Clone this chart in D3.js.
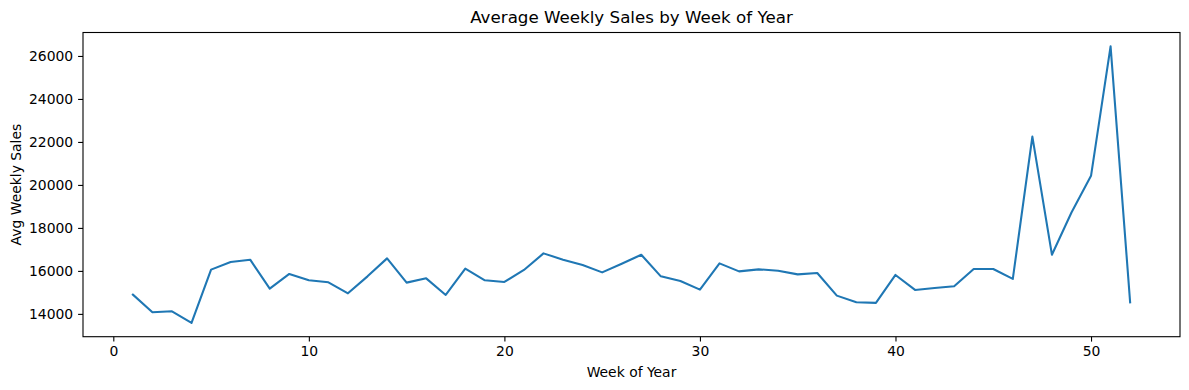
<!DOCTYPE html>
<html>
<head>
<meta charset="utf-8">
<script src="https://cdn.jsdelivr.net/npm/d3@7"></script>
<style>
  body { margin: 0; background: #fff; }
  text { font-family: "DejaVu Sans", sans-serif; fill: #000; }
</style>
</head>
<body>
<svg id="chart"></svg>
<script>
// week numbers and average weekly sales
const weeks = d3.range(1, 53);
const avgSales = [
  14896, 14074, 14121, 13582, 16058, 16415, 16522, 15175, 15858, 15561,
  15468, 14957, 15746, 16582, 15454, 15653, 14882, 16104, 15561, 15486,
  16044, 16815, 16522, 16276, 15932, 16336, 16754, 15746, 15533, 15129,
  16350, 15979, 16072, 16011, 15839, 15904, 14850, 14539, 14511, 15811,
  15115, 15208, 15282, 16090, 16090, 15626, 22249, 16754, 18719, 20424,
  26448, 14539
];
const xTicks = [0, 10, 20, 30, 40, 50];
const yTicks = [14000, 16000, 18000, 20000, 22000, 24000, 26000];

const W = 1189, H = 390;
const margin = { top: 32.5, right: 9, bottom: 53.3, left: 83 };
const width = W - margin.left - margin.right;
const height = H - margin.top - margin.bottom;

const svg = d3.select("#chart").attr("width", W).attr("height", H);
const g = svg.append("g")
  .attr("transform", "translate(" + margin.left + "," + margin.top + ")");

// matplotlib-style 5% padding around the data
const xPad = (d3.max(weeks) - d3.min(weeks)) * 0.05;
const yPad = (d3.max(avgSales) - d3.min(avgSales)) * 0.05;

const x = d3.scaleLinear()
  .domain([d3.min(weeks) - xPad, d3.max(weeks) + xPad])
  .range([0, width]);
const y = d3.scaleLinear()
  .domain([d3.min(avgSales) - yPad, d3.max(avgSales) + yPad])
  .range([height, 0]);

// axes
const xAxis = g.append("g")
  .attr("transform", "translate(0," + height + ")")
  .call(d3.axisBottom(x).tickValues(xTicks).tickSize(4.9).tickPadding(4.9).tickFormat(d3.format("d")));
const yAxis = g.append("g")
  .call(d3.axisLeft(y).tickValues(yTicks).tickSize(4.9).tickPadding(4.9).tickFormat(d3.format("d")));

[xAxis, yAxis].forEach(a => {
  a.select(".domain").remove();
  a.selectAll(".tick line").attr("stroke", "#000").attr("stroke-width", 1.1);
  a.selectAll(".tick text").style("font-size", "13.9px");
});

// line
const line = d3.line()
  .x((d, i) => x(weeks[i]))
  .y(d => y(d));

g.append("path")
  .datum(avgSales)
  .attr("fill", "none")
  .attr("stroke", "#1f77b4")
  .attr("stroke-width", 2.08)
  .attr("stroke-linejoin", "round")
  .attr("stroke-linecap", "square")
  .attr("d", line);

// frame
g.append("rect")
  .attr("width", width)
  .attr("height", height)
  .attr("fill", "none")
  .attr("stroke", "#000")
  .attr("stroke-width", 1.1);

// title and labels
svg.append("text")
  .attr("x", margin.left + width / 2)
  .attr("y", 23)
  .attr("text-anchor", "middle")
  .style("font-size", "16.7px")
  .text("Average Weekly Sales by Week of Year");

svg.append("text")
  .attr("x", margin.left + width / 2)
  .attr("y", 377)
  .attr("text-anchor", "middle")
  .style("font-size", "13.9px")
  .text("Week of Year");

svg.append("text")
  .attr("transform", "rotate(-90)")
  .attr("x", -(margin.top + height / 2))
  .attr("y", 21)
  .attr("text-anchor", "middle")
  .style("font-size", "13.9px")
  .text("Avg Weekly Sales");
</script>
</body>
</html>
